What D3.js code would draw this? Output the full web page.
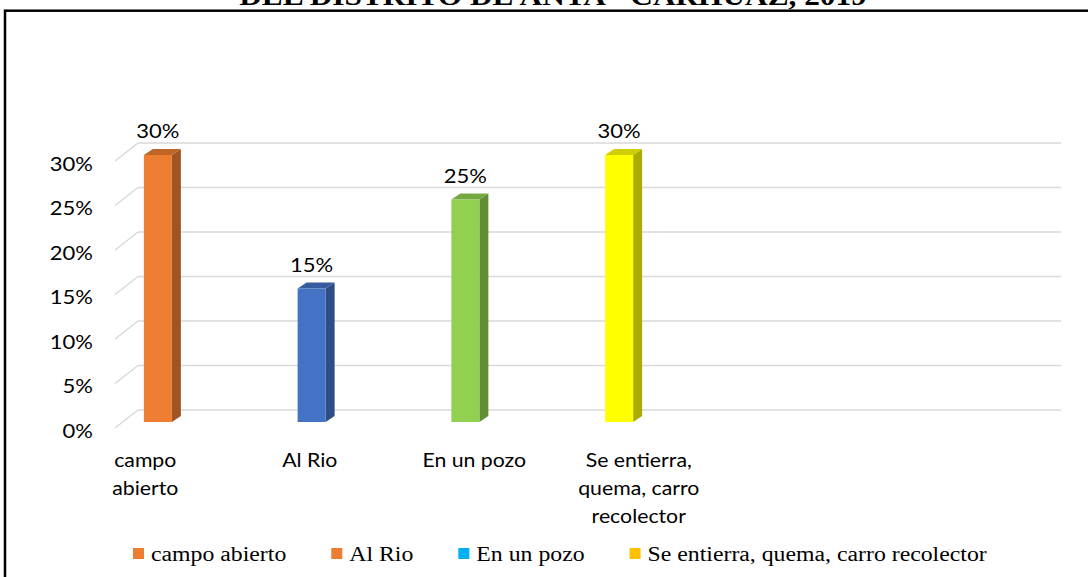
<!DOCTYPE html>
<html>
<head>
<meta charset="utf-8">
<script src="https://cdn.jsdelivr.net/npm/d3@7"></script>
<style>
  body { margin: 0; background: #fff; }
  svg { display: block; }
</style>
</head>
<body>
<div id="main_div"></div>
<script>
const categories = ["campo abierto", "Al Rio", "En un pozo", "Se entierra, quema, carro recolector"];
const categoryLines = [["campo", "abierto"], ["Al Rio"], ["En un pozo"], ["Se entierra,", "quema, carro", "recolector"]];
const values = [0.30, 0.15, 0.25, 0.30];
const barColors = ["#ED7D31", "#4472C4", "#92D050", "#FFFF00"];
const legendLabels = ["campo abierto", "Al Rio", "En un pozo", "Se entierra, quema, carro recolector"];
const legendColors = ["#ED7D31", "#ED7D31", "#00B0F0", "#FFC000"];
const yTicks = [0, 0.05, 0.10, 0.15, 0.20, 0.25, 0.30];
const titleText = "DEL DISTRITO DE ANTA - CARHUAZ, 2019";

const W = 1088, H = 577;
const SX = 1.16; // the picture is stretched sideways
const SANS = "Lato, 'Open Sans', sans-serif";
const SERIF = "'Liberation Serif', 'Times New Roman', serif";

const svg = d3.select("#main_div").append("svg")
    .attr("width", W)
    .attr("height", H);

// frame
svg.append("rect")
    .attr("x", 5).attr("y", 10.7)
    .attr("width", W + 20).attr("height", H + 20)
    .attr("fill", "none")
    .attr("stroke", "#000")
    .attr("stroke-width", 2.5);

function stext(g, x, y, str, opts) {
    return g.append("text")
        .attr("transform", `translate(${x},${y}) scale(${opts.sx || SX},1)`)
        .attr("text-anchor", opts.anchor || "start")
        .attr("font-family", opts.family)
        .attr("font-size", opts.size)
        .attr("font-weight", opts.weight || "normal")
        .attr("fill", "#000")
        .text(str);
}

// title (cut off by the top edge, as in the source)
stext(svg, 553, 5, titleText, { anchor: "middle", family: SERIF, size: 27, weight: "bold" });

const x = d3.scaleBand()
    .domain(categories)
    .range([81, 696]);

// the category labels sit on the front edge of the floor, which is wider
const xLabel = d3.scaleBand()
    .domain(categories)
    .range([63, 721]);

const y = d3.scaleLinear()
    .domain([0, 0.30])
    .range([422, 155]);

const BAR_W = 28, DX = 9, DY = -6;
const BACK = -12, WALL_L = 138, WALL_R = 1061, FRONT_L = 115;

// back wall gridlines and the slanted side lines
const grid = svg.append("g");
yTicks.forEach(t => {
    grid.append("line")
        .attr("x1", WALL_L).attr("x2", WALL_R)
        .attr("y1", y(t) + BACK).attr("y2", y(t) + BACK)
        .attr("stroke", "#d9d9d9").attr("stroke-width", 1.5);
    grid.append("line")
        .attr("x1", FRONT_L).attr("x2", WALL_L)
        .attr("y1", y(t) + BACK + 18).attr("y2", y(t) + BACK)
        .attr("stroke", "#d9d9d9").attr("stroke-width", 1.5);
    stext(grid, 93, y(t) + 15.5, d3.format(".0%")(t), { anchor: "end", family: SANS, size: 20, sx: 1.1 });
});

function shade(c, k) {
    return d3.rgb(c).darker(k).formatHex();
}

// 3D bars
const bars = svg.append("g");
categories.forEach((c, i) => {
    const x0 = x(c) + (x.bandwidth() - BAR_W) / 2;
    const x1 = x0 + BAR_W;
    const yt = y(values[i]);
    const yb = y(0);
    const col = barColors[i];
    bars.append("path")
        .attr("d", `M${x1},${yb}L${x1 + DX},${yb + DY}L${x1 + DX},${yt + DY}L${x1},${yt}Z`)
        .attr("fill", shade(col, 1.1));
    bars.append("path")
        .attr("d", `M${x0},${yt}L${x1},${yt}L${x1 + DX},${yt + DY}L${x0 + DX},${yt + DY}Z`)
        .attr("fill", shade(col, 0.6));
    bars.append("rect")
        .attr("x", x0).attr("y", yt)
        .attr("width", BAR_W).attr("height", yb - yt)
        .attr("fill", col);
    stext(bars, x0 + BAR_W / 2, yt - 17, d3.format(".0%")(values[i]), { anchor: "middle", family: SANS, size: 20, sx: 1.1 });
});

// category labels
const xl = svg.append("g");
categories.forEach((c, i) => {
    const cx = xLabel(c) + xLabel.bandwidth() / 2;
    categoryLines[i].forEach((ln, j) => {
        stext(xl, cx, 467 + j * 27.8, ln, { anchor: "middle", family: SANS, size: 19, sx: 1.12 });
    });
});

// legend
const leg = svg.append("g");
let lx = 133;
legendLabels.forEach((l, i) => {
    leg.append("rect")
        .attr("x", lx).attr("y", 548)
        .attr("width", 11).attr("height", 11)
        .attr("fill", legendColors[i]);
    const t = stext(leg, lx + 18, 561, l, { family: SERIF, size: 20.5 });
    lx += 18 + t.node().getComputedTextLength() * SX + 45;
});
</script>
</body>
</html>
